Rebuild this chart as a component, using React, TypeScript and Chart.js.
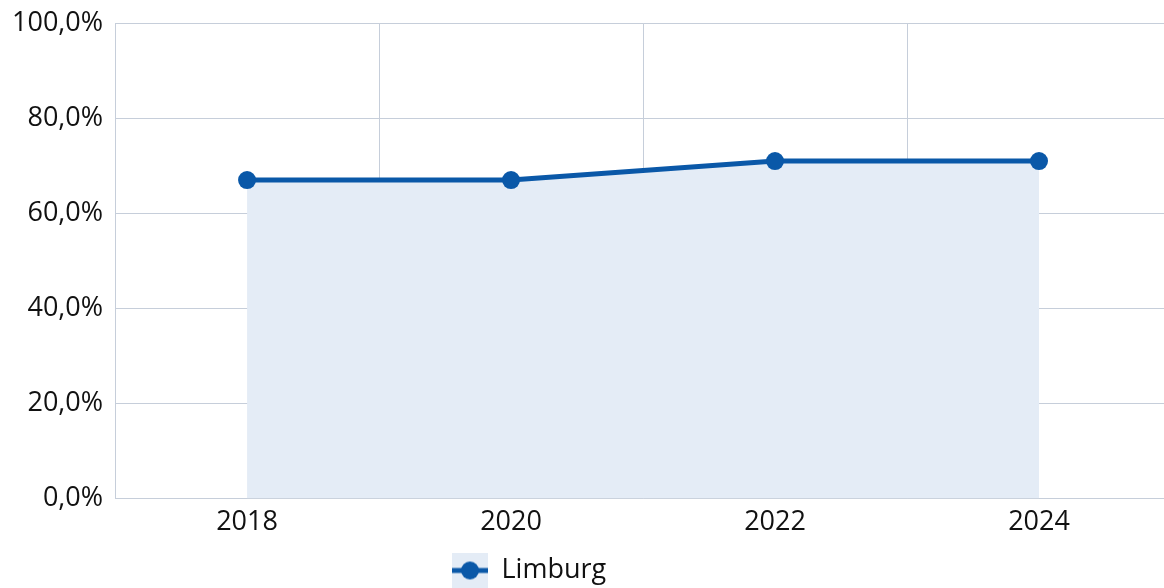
import React, { useEffect, useRef } from "react";
import { Chart, registerables } from "chart.js";

Chart.register(...registerables);

const years = ["2018", "2020", "2022", "2024"];
const limburg = [67, 67, 71, 71];
const seriesName = "Limburg";

const LINE = "#0a58a8";
const FILL = "#e4ecf6";
const GRID = "#c6ceda";
const FONT = "'Open Sans', 'Noto Sans', sans-serif";

function makeLegendIcon(): HTMLCanvasElement {
  const c = document.createElement("canvas");
  c.width = 36;
  c.height = 36;
  const ctx = c.getContext("2d")!;
  ctx.fillStyle = FILL;
  ctx.fillRect(0, 0, 36, 36);
  ctx.strokeStyle = LINE;
  ctx.lineWidth = 5;
  ctx.beginPath();
  ctx.moveTo(0, 18);
  ctx.lineTo(36, 18);
  ctx.stroke();
  ctx.fillStyle = LINE;
  ctx.beginPath();
  ctx.arc(18, 18, 9, 0, Math.PI * 2);
  ctx.fill();
  return c;
}

const legendShift = {
  id: "legendShift",
  afterLayout(chart: any) {
    const l = chart.legend;
    if (l) l.left = 442;
  },
};

export default function App() {
  const ref = useRef<HTMLCanvasElement | null>(null);
  useEffect(() => {
    if (!ref.current) return;
    const chart = new Chart(ref.current, {
      type: "line",
      data: {
        labels: years,
        datasets: [
          {
            label: seriesName,
            data: limburg,
            borderColor: LINE,
            backgroundColor: FILL,
            borderWidth: 5,
            pointRadius: 9,
            pointBorderWidth: 0,
            pointBackgroundColor: LINE,
            pointBorderColor: LINE,
            fill: "origin",
            tension: 0,
          },
        ],
      },
      options: {
        animation: false,
        responsive: true,
        maintainAspectRatio: false,
        layout: { padding: { top: 2, left: 0, right: 0, bottom: 0 } },
        scales: {
          x: {
            offset: true,
            grid: { color: GRID, offset: true, drawTicks: false },
            border: { color: GRID },
            ticks: { color: "#111", padding: 8, font: { family: FONT, size: 27 } },
          },
          y: {
            min: 0,
            max: 100,
            grid: { color: GRID, drawTicks: false },
            border: { color: GRID },
            ticks: {
              stepSize: 20,
              color: "#111",
              padding: 12,
              font: { family: FONT, size: 27 },
              callback: (v: any) => Number(v).toFixed(1).replace(".", ",") + "%",
            },
          },
        },
        plugins: {
          legend: {
            position: "bottom",
            align: "start",
            labels: {
              usePointStyle: true,
              pointStyle: makeLegendIcon() as any,
              pointStyleWidth: 36,
              padding: 10,
              color: "#111",
              font: { family: FONT, size: 27 },
            },
          },
          tooltip: { enabled: false },
        },
      },
      plugins: [legendShift],
    });
    return () => chart.destroy();
  }, []);
  return (
    <div style={{ position: "fixed", left: 0, top: 0, width: 1164, height: 588, overflow: "hidden", background: "#fff" }}>
      <div style={{ position: "absolute", left: 0, top: -5, width: 1180, height: 599 }}>
        <canvas ref={ref} />
      </div>
    </div>
  );
}
